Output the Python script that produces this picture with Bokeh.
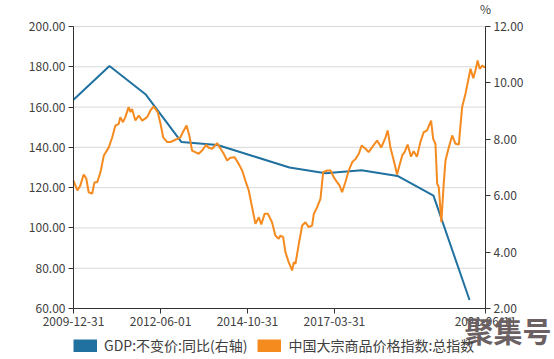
from datetime import datetime
from bokeh.plotting import figure
from bokeh.models import (Range1d, LinearAxis, FixedTicker, NumeralTickFormatter,
                          DatetimeTickFormatter, Legend, LegendItem, Label, ColumnDataSource)
from bokeh.embed import file_html
from bokeh.resources import INLINE

# ---- data ----
gdp_dates = ["2009-12-31", "2010-12-31", "2011-12-31", "2012-12-31", "2013-12-31", "2014-12-31",
             "2015-12-31", "2016-12-31", "2017-12-31", "2018-12-31", "2019-12-31", "2020-12-31"]
gdp_values = [9.4, 10.6, 9.6, 7.9, 7.8, 7.4, 7.0, 6.8, 6.9, 6.7, 6.0, 2.3]

cci_dates = [
    "2009-12-31", "2010-01-04", "2010-02-08", "2010-03-10", "2010-04-13", "2010-05-10", "2010-06-03",
    "2010-07-08", "2010-08-01", "2010-08-28", "2010-10-01", "2010-11-04", "2010-12-24", "2011-01-28",
    "2011-03-01", "2011-04-04", "2011-04-20", "2011-05-17", "2011-06-10", "2011-07-13", "2011-08-01",
    "2011-08-17", "2011-09-20", "2011-10-24", "2011-11-28", "2012-01-17", "2012-02-20", "2012-03-24",
    "2012-05-03", "2012-06-01", "2012-06-28", "2012-08-08", "2012-09-10", "2012-10-13", "2012-11-17",
    "2012-12-20", "2013-01-13", "2013-02-20", "2013-03-20", "2013-04-17", "2013-05-20", "2013-06-23",
    "2013-07-27", "2013-09-07", "2013-10-03", "2013-11-07", "2013-12-27", "2014-02-01", "2014-03-04",
    "2014-04-08", "2014-05-10", "2014-06-23", "2014-08-03", "2014-09-07", "2014-10-10", "2014-11-13",
    "2014-12-17", "2015-01-20", "2015-02-23", "2015-03-20", "2015-04-23", "2015-05-27", "2015-07-07",
    "2015-08-10", "2015-09-13", "2015-10-01", "2015-10-28", "2015-11-20", "2015-12-23", "2016-01-27",
    "2016-02-13", "2016-03-01", "2016-04-04", "2016-05-08", "2016-06-10", "2016-07-13", "2016-08-17",
    "2016-09-03", "2016-10-07", "2016-11-10", "2016-12-07", "2017-01-17", "2017-02-20", "2017-03-24",
    "2017-04-27", "2017-05-23", "2017-06-17", "2017-07-20", "2017-08-23", "2017-09-27", "2017-11-01",
    "2017-12-04", "2018-01-01", "2018-02-10", "2018-03-13", "2018-04-17", "2018-06-07", "2018-07-20",
    "2018-09-01", "2018-09-23", "2018-10-20", "2018-11-23", "2018-12-27", "2019-01-20", "2019-02-17",
    "2019-03-13", "2019-04-13", "2019-05-17", "2019-06-13", "2019-07-17", "2019-08-20", "2019-09-23",
    "2019-10-27", "2019-12-07", "2019-12-28", "2020-01-20", "2020-02-07", "2020-02-23", "2020-03-04",
    "2020-03-20", "2020-04-13", "2020-05-01", "2020-06-04", "2020-07-08", "2020-08-10", "2020-09-13",
    "2020-10-17", "2020-11-20", "2020-12-17", "2021-01-10", "2021-02-07", "2021-03-01", "2021-03-23",
    "2021-04-13", "2021-05-08", "2021-05-28", "2021-06-11"]
cci_values = [
    123.5, 123.0, 118.6, 121.0, 126.5, 124.5, 117.7,
    117.0, 122.7, 122.7, 127.7, 136.0, 140.0, 145.0,
    150.8, 151.7, 155.0, 152.5, 155.0, 160.0, 157.5,
    159.0, 153.3, 155.8, 153.3, 155.0, 158.3, 160.3,
    157.5, 151.7, 145.0, 142.6, 142.6, 143.4, 144.2,
    145.0, 147.5, 150.8, 145.9, 138.4, 137.6, 136.8,
    138.4, 141.3, 139.8, 139.3, 142.1, 139.3, 136.8,
    133.5, 134.8, 135.1, 131.8, 128.5, 123.5, 118.6,
    110.3, 102.0, 105.3, 101.7, 107.0, 107.0, 102.8,
    96.2, 94.6, 96.2, 95.4, 88.0, 83.0, 78.9,
    83.0, 82.2, 92.1, 101.2, 102.8, 100.4, 101.2,
    107.0, 110.3, 114.5, 127.7, 128.5, 128.5, 125.2,
    122.7, 121.0, 117.7, 122.7, 128.5, 132.6, 134.3,
    136.8, 140.9, 139.3, 137.6, 140.0, 143.4, 140.0,
    145.0, 148.4, 140.0, 133.5, 126.5, 131.0, 136.0,
    137.6, 141.4, 135.4, 138.1, 135.4, 142.6, 147.5,
    148.4, 153.3, 144.2, 141.8, 121.9, 120.2, 113.6,
    102.8, 121.9, 133.5, 140.0, 145.9, 141.8, 141.4,
    160.0, 166.6, 173.2, 179.0, 174.3, 178.2, 183.1,
    179.0, 180.6, 179.8, 180.2]

x_tick_dates = ["2009-12-31", "2012-06-01", "2014-10-31", "2017-03-31", "2021-06-11"]
left_ticks = [60, 80, 100, 120, 140, 160, 180, 200]
right_ticks = [2, 4, 6, 8, 10, 12]

gdp_name = "GDP:不变价:同比(右轴)"
cci_name = "中国大宗商品价格指数:总指数"
unit_text = "%"
watermark_text = "聚集号"

# ---- layout (pixels) ----
W, H = 554, 359
PL, PR, PT, PB = 73, 485, 26, 308   # plotting area edges

# ---- styling ----
BLUE = "#2071a0"
ORANGE = "#f58a1f"
TXT = "#404040"
AX = "#333333"
GRID = "#d9d9d9"
FONT = "Noto Sans CJK SC"

to_ms = lambda s: datetime.strptime(s, "%Y-%m-%d").timestamp() * 1000
gdp_x = [to_ms(d) for d in gdp_dates]
cci_x = [to_ms(d) for d in cci_dates]
tick_ms = [to_ms(d) for d in x_tick_dates]
t0, t1 = tick_ms[0], tick_ms[-1]
yl0, yl1 = left_ticks[0], left_ticks[-1]
yr0, yr1 = right_ticks[0], right_ticks[-1]

# ranges extended so the whole canvas is the frame (nothing gets clipped)
sx = (t1 - t0) / (PR - PL)
sl = (yl1 - yl0) / (PB - PT)
sr = (yr1 - yr0) / (PB - PT)
x_range = Range1d(t0 - PL * sx, t1 + (W - PR) * sx)
y_range = Range1d(yl0 - (H - PB) * sl, yl1 + PT * sl)
r_range = Range1d(yr0 - (H - PB) * sr, yr1 + PT * sr)

p = figure(width=W, height=H, x_axis_type="datetime", output_backend="svg",
           toolbar_location=None, x_range=x_range, y_range=y_range,
           min_border=0)
p.outline_line_color = None
p.background_fill_color = "white"
p.border_fill_color = "white"
p.extra_y_ranges = {"right": r_range}
p.grid.visible = False

def style_axis(ax):
    ax.axis_line_color = AX
    ax.major_tick_line_color = AX
    ax.major_tick_out = 5
    ax.major_tick_in = 0
    ax.minor_tick_line_color = None
    ax.major_label_text_color = TXT
    ax.major_label_text_font = FONT
    ax.major_label_text_font_size = "12px"
    ax.major_label_standoff = 3

# gridlines at the left-axis ticks, spanning the plotting period
p.segment(x0=[t0] * len(left_ticks), x1=[t1] * len(left_ticks), y0=left_ticks, y1=left_ticks,
          line_color=GRID, line_width=1)

# left axis
yl = p.yaxis[0]
yl.ticker = FixedTicker(ticks=left_ticks)
yl.formatter = NumeralTickFormatter(format="0.00")
yl.fixed_location = t0
yl.bounds = (yl0, yl1)
style_axis(yl)

# right axis
yr = LinearAxis(y_range_name="right", ticker=FixedTicker(ticks=right_ticks),
                formatter=NumeralTickFormatter(format="0.00"),
                fixed_location=t1, bounds=(yr0, yr1))
style_axis(yr)
p.add_layout(yr, "right")

# bottom axis
xa = p.xaxis[0]
xa.ticker = FixedTicker(ticks=tick_ms)
xa.formatter = DatetimeTickFormatter(days="%Y-%m-%d", months="%Y-%m-%d", years="%Y-%m-%d",
                                     hours="%Y-%m-%d", minutes="%Y-%m-%d")
xa.fixed_location = yl0
xa.bounds = (t0, t1)
style_axis(xa)

# lines
gdp_src = ColumnDataSource(dict(x=gdp_x, y=gdp_values))
cci_src = ColumnDataSource(dict(x=cci_x, y=cci_values))
p.line("x", "y", source=gdp_src, y_range_name="right", line_color=BLUE, line_width=2)
p.line("x", "y", source=cci_src, line_color=ORANGE, line_width=2)

# legend swatches: thick invisible (NaN) lines render as filled rectangles in the legend
nan = float("nan")
swatch_src = ColumnDataSource(dict(x=[nan], y=[nan]))
sw_gdp = p.line("x", "y", source=swatch_src, line_color=BLUE, line_width=13, line_cap="butt")
sw_cci = p.line("x", "y", source=swatch_src, line_color=ORANGE, line_width=13, line_cap="butt")

legend = Legend(items=[LegendItem(label=gdp_name, renderers=[sw_gdp]),
                       LegendItem(label=cci_name, renderers=[sw_cci])],
                location=(PL, 4), orientation="horizontal",
                glyph_width=24, glyph_height=13, label_height=13, label_standoff=7,
                spacing=10, padding=0, margin=0, border_line_color=None,
                background_fill_alpha=0,
                label_text_font=FONT, label_text_font_size="14px", label_text_color=TXT)
p.add_layout(legend, "center")

# unit label over right axis
p.add_layout(Label(x=t1, y=yr1, y_range_name="right", text=unit_text,
                   text_align="center", text_baseline="middle", y_offset=18,
                   text_font=FONT, text_font_size="12px", text_color=TXT))

# watermark
p.add_layout(Label(x=t1, y=yl0, text=watermark_text, text_align="left",
                   text_baseline="middle", x_offset=-21, y_offset=-21,
                   text_font=FONT, text_font_size="29px", text_font_style="bold",
                   text_color="#6b6163"))

open("out.html", "w").write(file_html(p, INLINE))
